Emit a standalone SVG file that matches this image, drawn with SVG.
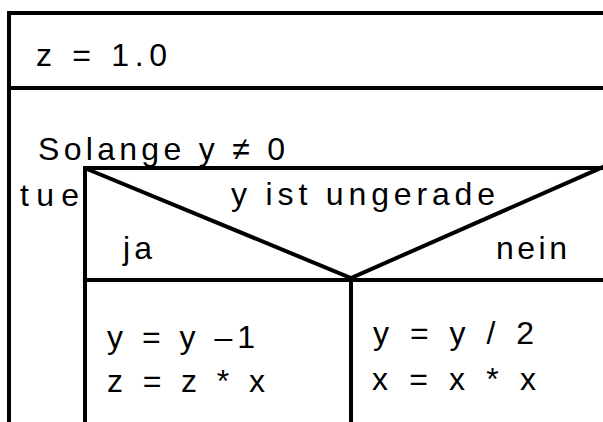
<svg xmlns="http://www.w3.org/2000/svg" width="603" height="422" viewBox="0 0 603 422">
<style>
.ln{stroke:#000;stroke-width:4;fill:none;stroke-linecap:square}
.t{font-family:"Liberation Sans",Arial,sans-serif;font-size:32px;fill:#000}
</style>
<rect width="603" height="422" fill="#fff"/>
<g id="connectors">
<path class="ln" d="M9,13 H605 M9,13 V424 M9,88 H605"/>
</g>
<g id="assign">
<text class="t" x="36" y="66" textLength="131" lengthAdjust="spacing">z = 1.0</text>
</g>
<g id="loop">
<text class="t" x="38" y="160" textLength="247" lengthAdjust="spacing">Solange y ≠ 0</text>
<text class="t" x="20" y="206" textLength="59" lengthAdjust="spacing">tue</text>
</g>
<g id="decision">
<path class="ln" d="M85,168 H605 M85,168 V424 M85,280 H605 M351,280 V424"/>
<path class="ln" d="M87,169 L351,278 L603,167" stroke-linecap="butt"/>
<text class="t" x="231" y="205" textLength="264" lengthAdjust="spacing">y ist ungerade</text>
<text class="t" x="123" y="259" textLength="29" lengthAdjust="spacing">ja</text>
<text class="t" x="496" y="259" textLength="71" lengthAdjust="spacing">nein</text>
</g>
<g id="ja-branch">
<text class="t" x="107" y="348" textLength="148" lengthAdjust="spacing">y = y –1</text>
<text class="t" x="107" y="392" textLength="158" lengthAdjust="spacing">z = z * x</text>
</g>
<g id="nein-branch">
<text class="t" x="373" y="344" textLength="161" lengthAdjust="spacing">y = y / 2</text>
<text class="t" x="372" y="390" textLength="164" lengthAdjust="spacing">x = x * x</text>
</g>
</svg>
